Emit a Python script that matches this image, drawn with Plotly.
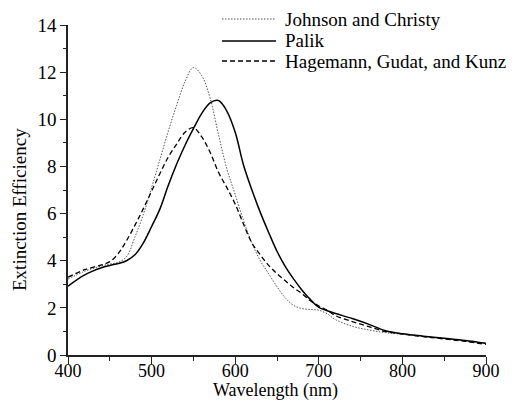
import plotly.graph_objects as go

wavelength = [400, 420, 440, 450, 460, 470, 480, 490, 500, 510, 520, 530, 540, 550, 560,
              570, 580, 590, 600, 610, 620, 630, 640, 650, 660, 670, 680, 690, 700,
              710, 720, 740, 760, 780, 800, 825, 850, 875, 900]

johnson_christy = [3.22, 3.55, 3.78, 3.86, 3.93, 4.17, 5.0, 5.95, 7.1, 8.3, 9.5, 10.6, 11.6, 12.2, 11.85,
                   10.9, 9.35, 7.9, 6.8, 5.7, 4.75, 4.0, 3.45, 2.9, 2.42, 2.1, 1.97, 1.93, 1.9,
                   1.75, 1.5, 1.22, 1.06, 0.95, 0.88, 0.78, 0.7, 0.6, 0.48]

palik = [2.92, 3.4, 3.7, 3.8, 3.88, 4.0, 4.25, 4.75, 5.45, 6.2, 7.2, 8.1, 8.9, 9.6, 10.25,
         10.7, 10.8, 10.35, 9.45, 8.05, 7.0, 6.05, 5.2, 4.4, 3.75, 3.22, 2.75, 2.35, 2.02,
         1.88, 1.76, 1.55, 1.3, 1.03, 0.9, 0.8, 0.71, 0.62, 0.5]

hagemann = [3.3, 3.62, 3.82, 3.96, 4.3, 4.85, 5.5, 6.2, 6.95, 7.7, 8.4, 8.95, 9.45, 9.64, 9.25,
            8.6, 7.75, 7.1, 6.4, 5.55, 4.75, 4.25, 3.8, 3.45, 3.15, 2.85, 2.6, 2.3, 2.08,
            1.9, 1.67, 1.42, 1.2, 0.99, 0.89, 0.78, 0.68, 0.58, 0.45]

series_names = ["Johnson and Christy", "Palik", "Hagemann, Gudat, and Kunz"]
x_ticks = [400, 500, 600, 700, 800, 900]
y_ticks = [0, 2, 4, 6, 8, 10, 12, 14]

FONT = "Liberation Serif"
styles = [
    dict(color="#555555", width=1, dash="1.5px,1.5px"),
    dict(color="#000000", width=1.5, dash="solid"),
    dict(color="#000000", width=1.3, dash="5px,3px"),
]

fig = go.Figure()
for name, ys, st in zip(series_names, [johnson_christy, palik, hagemann], styles):
    fig.add_trace(go.Scatter(x=wavelength, y=ys, mode="lines", name=name,
                             line=dict(shape="spline", smoothing=1.0, **st),
                             showlegend=False))

# custom legend (sample lines + labels)
leg_y = [19, 41, 61]
W, H = 514, 402
for name, st, yy in zip(series_names, styles, leg_y):
    fig.add_shape(type="line", xref="paper", yref="paper",
                  x0=(222 - 68) / 418, x1=(276 - 68) / 418,
                  y0=(355 - yy) / 330, y1=(355 - yy) / 330,
                  line=st)
    fig.add_annotation(text=name, xref="paper", yref="paper",
                       x=(283 - 68) / 418, y=(355 - yy) / 330,
                       xanchor="left", yanchor="middle", showarrow=False,
                       font=dict(family=FONT, size=19, color="#000"))

# axis titles
fig.add_annotation(text="Wavelength (nm)", xref="paper", yref="paper",
                   x=(275 - 68) / 418, y=(355 - 402) / 330, xanchor="center",
                   yanchor="bottom", showarrow=False, borderpad=0,
                   font=dict(family=FONT, size=18, color="#000"))
fig.add_annotation(text="Extinction Efficiency", xref="paper", yref="paper",
                   x=(20 - 68) / 418, y=(355 - 210) / 330, xanchor="center",
                   yanchor="middle", showarrow=False, textangle=-90,
                   font=dict(family=FONT, size=19, color="#000"))

fig.update_layout(
    width=W, height=H,
    margin=dict(l=68, r=28, t=25, b=47),
    paper_bgcolor="white", plot_bgcolor="white",
    font=dict(family=FONT, size=19, color="#000"),
    xaxis=dict(range=[400, 900], tickvals=x_ticks, ticks="outside", ticklen=7,
               tickwidth=1.2, tickcolor="#222", showline=True, linecolor="#222",
               linewidth=1.5, showgrid=False, zeroline=False, ticklabelstandoff=-8,
               minor=dict(dtick=50, tick0=400, ticks="outside", ticklen=4,
                          tickcolor="#222", tickwidth=1.2, showgrid=False),
               tickfont=dict(family=FONT, size=18, color="#000")),
    yaxis=dict(range=[0, 14], tickvals=y_ticks, ticks="outside", ticklen=6,
               tickwidth=1.2, tickcolor="#222", showline=True, linecolor="#222",
               linewidth=1.5, showgrid=False, zeroline=False,
               minor=dict(dtick=1, tick0=0, ticks="outside", ticklen=3,
                          tickcolor="#222", tickwidth=1.2, showgrid=False),
               tickfont=dict(family=FONT, size=19, color="#000")),
)

fig.write_html("out.html")
